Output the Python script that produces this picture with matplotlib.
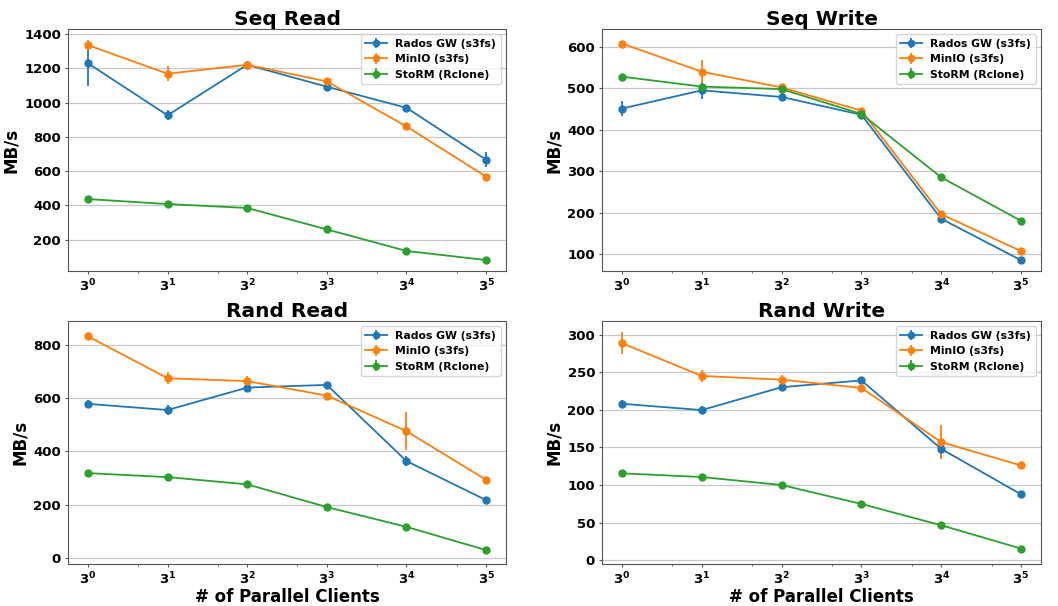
import matplotlib
matplotlib.use('Agg')
import matplotlib.pyplot as plt
import numpy as np

plt.rcParams['font.family'] = ['DejaVu Sans']
plt.rcParams['font.weight'] = 'bold'
plt.rcParams['axes.titleweight'] = 'bold'
plt.rcParams['axes.labelweight'] = 'bold'

clients = [1, 3, 9, 27, 81, 243]
labels = ["Rados GW (s3fs)", "MinIO (s3fs)", "StoRM (Rclone)"]
colors = ['#1f77b4', '#ff7f0e', '#2ca02c']

# Seq Read
seq_read_rados = [1230, 926, 1221, 1093, 970, 667]
seq_read_rados_err = [130, 30, 15, 8, 8, 45]
seq_read_minio = [1336, 1169, 1221, 1124, 861, 568]
seq_read_minio_err = [30, 45, 25, 8, 15, 15]
seq_read_storm = [437, 408, 385, 260, 134, 81]
seq_read_storm_err = [5, 5, 5, 5, 5, 5]

# Seq Write
seq_write_rados = [451, 495, 479, 436, 185, 85]
seq_write_rados_err = [18, 22, 10, 4, 4, 3]
seq_write_minio = [608, 540, 502, 446, 196, 107]
seq_write_minio_err = [4, 28, 5, 4, 4, 3]
seq_write_storm = [528, 504, 498, 438, 285, 180]
seq_write_storm_err = [3, 3, 3, 3, 3, 3]

# Rand Read
rand_read_rados = [578, 555, 639, 649, 364, 218]
rand_read_rados_err = [15, 18, 8, 6, 20, 12]
rand_read_minio = [831, 674, 663, 609, 476, 294]
rand_read_minio_err = [14, 22, 18, 6, 70, 6]
rand_read_storm = [319, 304, 277, 192, 118, 31]
rand_read_storm_err = [3, 3, 3, 3, 3, 3]

# Rand Write
rand_write_rados = [208, 199.6, 230, 239, 148, 87.6]
rand_write_rados_err = [5, 5, 3, 2, 12, 4]
rand_write_minio = [288.5, 245, 240, 229, 157, 126]
rand_write_minio_err = [15, 8, 6, 2, 23, 4]
rand_write_storm = [115.5, 110.6, 100, 74.8, 46.5, 15.5]
rand_write_storm_err = [1, 1, 1, 1, 1, 1]

panels = [
    ("Seq Read", [seq_read_rados, seq_read_minio, seq_read_storm],
     [seq_read_rados_err, seq_read_minio_err, seq_read_storm_err], (17, 1430)),
    ("Seq Write", [seq_write_rados, seq_write_minio, seq_write_storm],
     [seq_write_rados_err, seq_write_minio_err, seq_write_storm_err], (59, 643)),
    ("Rand Read", [rand_read_rados, rand_read_minio, rand_read_storm],
     [rand_read_rados_err, rand_read_minio_err, rand_read_storm_err], (-21, 888)),
    ("Rand Write", [rand_write_rados, rand_write_minio, rand_write_storm],
     [rand_write_rados_err, rand_write_minio_err, rand_write_storm_err], (-5, 318)),
]

W, H = 1058, 606
fig = plt.figure(figsize=(W / 100, H / 100), dpi=100)
boxes = [(68, 29, 506, 271), (602, 29, 1041, 271),
         (68, 321, 506, 564), (602, 321, 1041, 564)]

for i, (title, series, errs, ylim) in enumerate(panels):
    l, t, r, b = boxes[i]
    ax = fig.add_axes([l / W, 1 - b / H, (r - l) / W, (b - t) / H])
    for vals, err, lab, c in zip(series, errs, labels, colors):
        ax.errorbar(clients, vals, yerr=err, fmt='-o', color=c, label=lab,
                    markersize=5, linewidth=1.3, elinewidth=1.3, capsize=0)
    ax.set_xscale('log', base=3)
    ax.set_ylim(ylim)
    ax.set_title(title, fontsize=14.5, fontweight='bold', pad=3)
    ax.set_ylabel('MB/s', fontsize=12, fontweight='bold', labelpad=3)
    if i >= 2:
        ax.set_xlabel('# of Parallel Clients', fontsize=12, fontweight='bold', labelpad=0)
    ax.yaxis.grid(True, color='#c8c8c8', linewidth=0.9)
    ax.set_axisbelow(True)
    ax.tick_params(labelsize=9.5, length=2.5, pad=2.5, color='#555555')
    ax.tick_params(which='minor', length=1.5, color='#555555')
    for s in ax.spines.values():
        s.set_color('#555555')
    ax.legend(loc='upper right', fontsize=7.8, framealpha=0.8, markerscale=0.9)

fig.savefig('out.png', dpi=100)
